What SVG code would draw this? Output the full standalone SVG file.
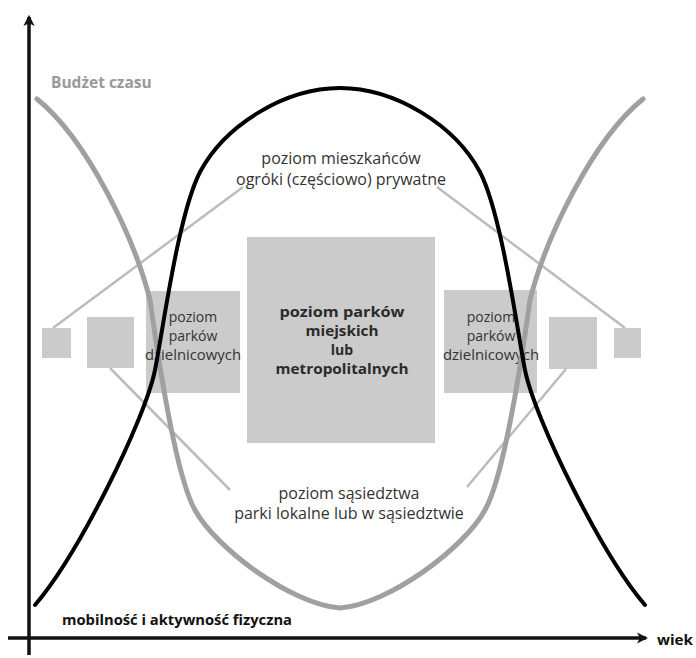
<svg xmlns="http://www.w3.org/2000/svg" width="696" height="658" viewBox="0 0 696 658">
<style>
.box{fill:#cbcbcb}
.conn{stroke:#bcbcbc;stroke-width:2.5;fill:none}
.t{font-family:"Open Sans","Noto Sans",sans-serif;fill:#333;text-anchor:middle}
.reg{font-size:16px}
.sm{font-size:14px}
.bold{font-weight:700;font-size:14px;fill:#2a2a2a}
.axis{stroke:#111;stroke-width:3.5;fill:none}
.lbl{font-family:"Open Sans","Noto Sans",sans-serif;font-weight:700}
</style>
<defs>
<marker id="arr" viewBox="0 0 10 10" refX="8" refY="5" markerWidth="3.2" markerHeight="3.2" orient="auto" markerUnits="strokeWidth">
<path d="M0,0 L10,5 L0,10 L2.5,5 Z" fill="#111"/>
</marker>
</defs>
<rect width="696" height="658" fill="#fff"/>
<g id="nodes">
<g id="box-center"><rect class="box" x="247" y="237" width="188" height="206"/>
<text class="t bold" x="342" y="317" textLength="125" lengthAdjust="spacingAndGlyphs">poziom parków</text>
<text class="t bold" x="342" y="336" textLength="73" lengthAdjust="spacingAndGlyphs">miejskich</text>
<text class="t bold" x="342" y="355">lub</text>
<text class="t bold" x="342" y="374" textLength="133" lengthAdjust="spacingAndGlyphs">metropolitalnych</text></g>
<g id="box-left-mid"><rect class="box" x="146" y="291" width="94" height="102"/>
<text class="t sm" x="193" y="322">poziom</text>
<text class="t sm" x="193" y="341">parków</text>
<text class="t sm" x="193" y="360" textLength="96" lengthAdjust="spacingAndGlyphs">dzielnicowych</text></g>
<g id="box-right-mid"><rect class="box" x="444" y="290" width="93" height="103"/>
<text class="t sm" x="491" y="322">poziom</text>
<text class="t sm" x="491" y="341">parków</text>
<text class="t sm" x="491" y="360" textLength="96" lengthAdjust="spacingAndGlyphs">dzielnicowych</text></g>
<g id="box-left-2"><rect class="box" x="87" y="317" width="47" height="51"/></g>
<g id="box-right-2"><rect class="box" x="549" y="317" width="48" height="52"/></g>
<g id="box-left-1"><rect class="box" x="42" y="328" width="29" height="30"/></g>
<g id="box-right-1"><rect class="box" x="614" y="328" width="27" height="30"/></g>
<g id="label-residents">
<text class="t reg" x="341" y="164">poziom mieszkańców</text>
<text class="t reg" x="341" y="185">ogróki (częściowo) prywatne</text></g>
<g id="label-neighbourhood">
<text class="t reg" x="349" y="499">poziom sąsiedztwa</text>
<text class="t reg" x="349" y="519">parki lokalne lub w sąsiedztwie</text></g>
</g>
<g id="connectors">
<line class="conn" x1="53" y1="328" x2="243" y2="187"/>
<line class="conn" x1="437" y1="187" x2="625" y2="328"/>
<line class="conn" x1="110" y1="368" x2="230" y2="490"/>
<line class="conn" x1="566" y1="369" x2="467" y2="487"/>
</g>
<g id="curves">
<path id="budzet" d="M37,99 C88,140 135,240 150,300 C157,350 175,475 195,510 C215,547 290,604 340,608 C390,604 465,547 485,510 C505,475 523,350 530,300 C545,240 592,140 643,99" fill="none" stroke="#a0a0a0" stroke-width="5" stroke-linecap="round" stroke-linejoin="round"/>
<path id="mobilnosc" d="M35,605 C78,555 145,420 155,370 C163,330 178,215 200,172 C225,125 285,88 340,88 C395,88 455,125 480,172 C502,215 517,330 525,370 C535,420 602,555 645,605" fill="none" stroke="#000" stroke-width="4" stroke-linecap="round" stroke-linejoin="round"/>
</g>
<g id="axes">
<line class="axis" x1="29" y1="655" x2="29" y2="17" marker-end="url(#arr)"/>
<line class="axis" x1="8" y1="638" x2="646" y2="638" marker-end="url(#arr)"/>
</g>
<g id="axis-labels">
<text class="lbl" x="51" y="88" font-size="15.5" fill="#999">Budżet czasu</text>
<text class="lbl" x="62" y="625" font-size="14" fill="#111" textLength="230" lengthAdjust="spacingAndGlyphs">mobilność i aktywność fizyczna</text>
<text class="lbl" x="657" y="645" font-size="15" fill="#111" textLength="36" lengthAdjust="spacingAndGlyphs">wiek</text>
</g>
</svg>
